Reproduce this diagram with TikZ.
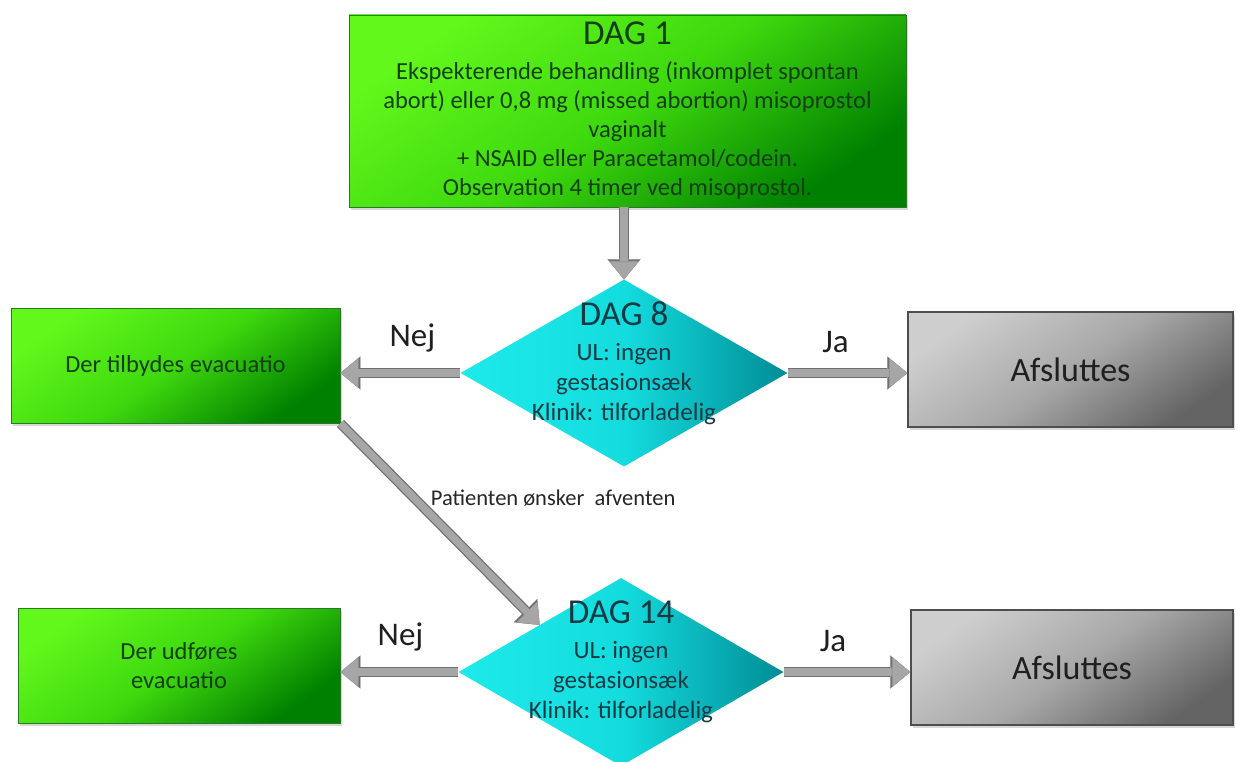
\documentclass[tikz,border=0pt]{standalone}
\usepackage{fontspec}
\setmainfont{Carlito}
\usetikzlibrary{shapes.geometric,shadows,arrows.meta}

\definecolor{gruenlys}{RGB}{98,248,28}
\definecolor{gruenmid}{RGB}{62,216,14}
\definecolor{gruenmoerk}{RGB}{0,128,0}
\definecolor{gruenkant}{RGB}{40,120,40}
\definecolor{gruentekst}{RGB}{18,62,18}
\definecolor{cyanlys}{RGB}{30,234,234}
\definecolor{cyanmid}{RGB}{20,220,222}
\definecolor{cyanmoerk}{RGB}{0,140,150}
\definecolor{cyantekst}{RGB}{22,58,68}
\definecolor{graalys}{RGB}{206,206,206}
\definecolor{graamid}{RGB}{168,168,168}
\definecolor{graamoerk}{RGB}{100,100,100}
\definecolor{graakant}{RGB}{78,78,78}
\definecolor{pilgraa}{RGB}{166,166,166}
\definecolor{pilkant}{RGB}{112,112,112}

\newcommand{\overskrift}[1]{{\fontsize{35}{35}\selectfont #1}}

\begin{document}
\begin{tikzpicture}[x=1pt,y=-1pt,
  boks/.style={rectangle,inner sep=0pt,align=center,
    drop shadow={shadow xshift=2pt,shadow yshift=-3pt,opacity=0.3}},
  gruenboks/.style={boks,draw=gruenkant,line width=0.8pt,
    top color=gruenlys,bottom color=gruenmoerk,middle color=gruenmid,
    shading angle=35,text=gruentekst,font=\fontsize{24.5}{29}\selectfont},
  graaboks/.style={boks,draw=graakant,line width=1.5pt,
    top color=graalys,bottom color=graamoerk,middle color=graamid,
    shading angle=35,text=black!88,font=\fontsize{34}{38}\selectfont},
  beslut/.style={diamond,inner sep=0pt,
    left color=cyanlys,right color=cyanmoerk,middle color=cyanmid},
  besluttekst/.style={align=center,inner sep=0pt,text=cyantekst,
    font=\fontsize{25}{30}\selectfont},
  pil/.style={line width=7.5pt,draw=pilgraa,
    -{Triangle[length=18pt,width=29pt,line width=0.1pt]},
    preaction={draw=pilkant,line width=10pt,
      -{Triangle[length=20pt,width=33pt,line width=0.1pt]}}},
  svar/.style={inner sep=0pt,text=black!88,font=\fontsize{33}{38}\selectfont},
  pilnote/.style={inner sep=0pt,text=black!85,font=\fontsize{22.5}{26}\selectfont}
]
\useasboundingbox (0,0) rectangle (1238,762);
\fill[white] (0,0) rectangle (1238,762);

% kasser
\node[gruenboks,minimum width=557pt,minimum height=192pt] (dag1) at (627.5,111)
  {\overskrift{DAG 1}\\[6pt]
   Ekspekterende behandling (inkomplet spontan\\
   abort) eller 0,8 mg (missed abortion) misoprostol\\
   vaginalt\\
   + NSAID eller Paracetamol/codein.\\
   Observation 4 timer ved misoprostol.};
\node[gruenboks,minimum width=329pt,minimum height=115pt] (tilbud) at (175.5,365.5)
  {Der tilbydes evacuatio};
\node[gruenboks,minimum width=322pt,minimum height=115pt] (udfoer) at (179,665.5)
  {Der udføres\\ evacuatio};
\node[graaboks,minimum width=325pt,minimum height=115pt] (slut1) at (1070.5,369.5)
  {Afsluttes};
\node[graaboks,minimum width=322pt,minimum height=115pt] (slut2) at (1072,667.5)
  {Afsluttes};

% beslutninger
\node[beslut,minimum width=327pt,minimum height=187pt] (dag8) at (624,373) {};
\node[besluttekst] (dag8tekst) at ([yshift=10pt]dag8.center)
  {\overskrift{DAG 8}\\[5pt] UL: ingen\\ gestasionsæk\\ Klinik: tilforladelig};
\node[beslut,minimum width=325pt,minimum height=188pt] (dag14) at (621,672) {};
\node[besluttekst] (dag14tekst) at ([yshift=10pt]dag14.center)
  {\overskrift{DAG 14}\\[5pt] UL: ingen\\ gestasionsæk\\ Klinik: tilforladelig};

% pile
\draw[pil] (dag1.south -| dag8.north) -- (dag8.north);
\draw[pil] (dag8.west) -- (dag8.west -| tilbud.east)
  node[svar,pos=0.4,yshift=35pt] {Nej};
\draw[pil] (dag8.east) -- (dag8.east -| slut1.west)
  node[svar,pos=0.4,yshift=31pt] {Ja};
\draw[pil] (tilbud.south east) -- (dag14.north west)
  node[pilnote,pos=0.37,anchor=west,xshift=13pt] {Patienten ønsker\ \ afventen};
\draw[pil] (dag14.west) -- (dag14.west -| udfoer.east)
  node[svar,pos=0.49,yshift=35pt] {Nej};
\draw[pil] (dag14.east) -- (dag14.east -| slut2.west)
  node[svar,pos=0.39,yshift=31pt] {Ja};
\end{tikzpicture}
\end{document}
